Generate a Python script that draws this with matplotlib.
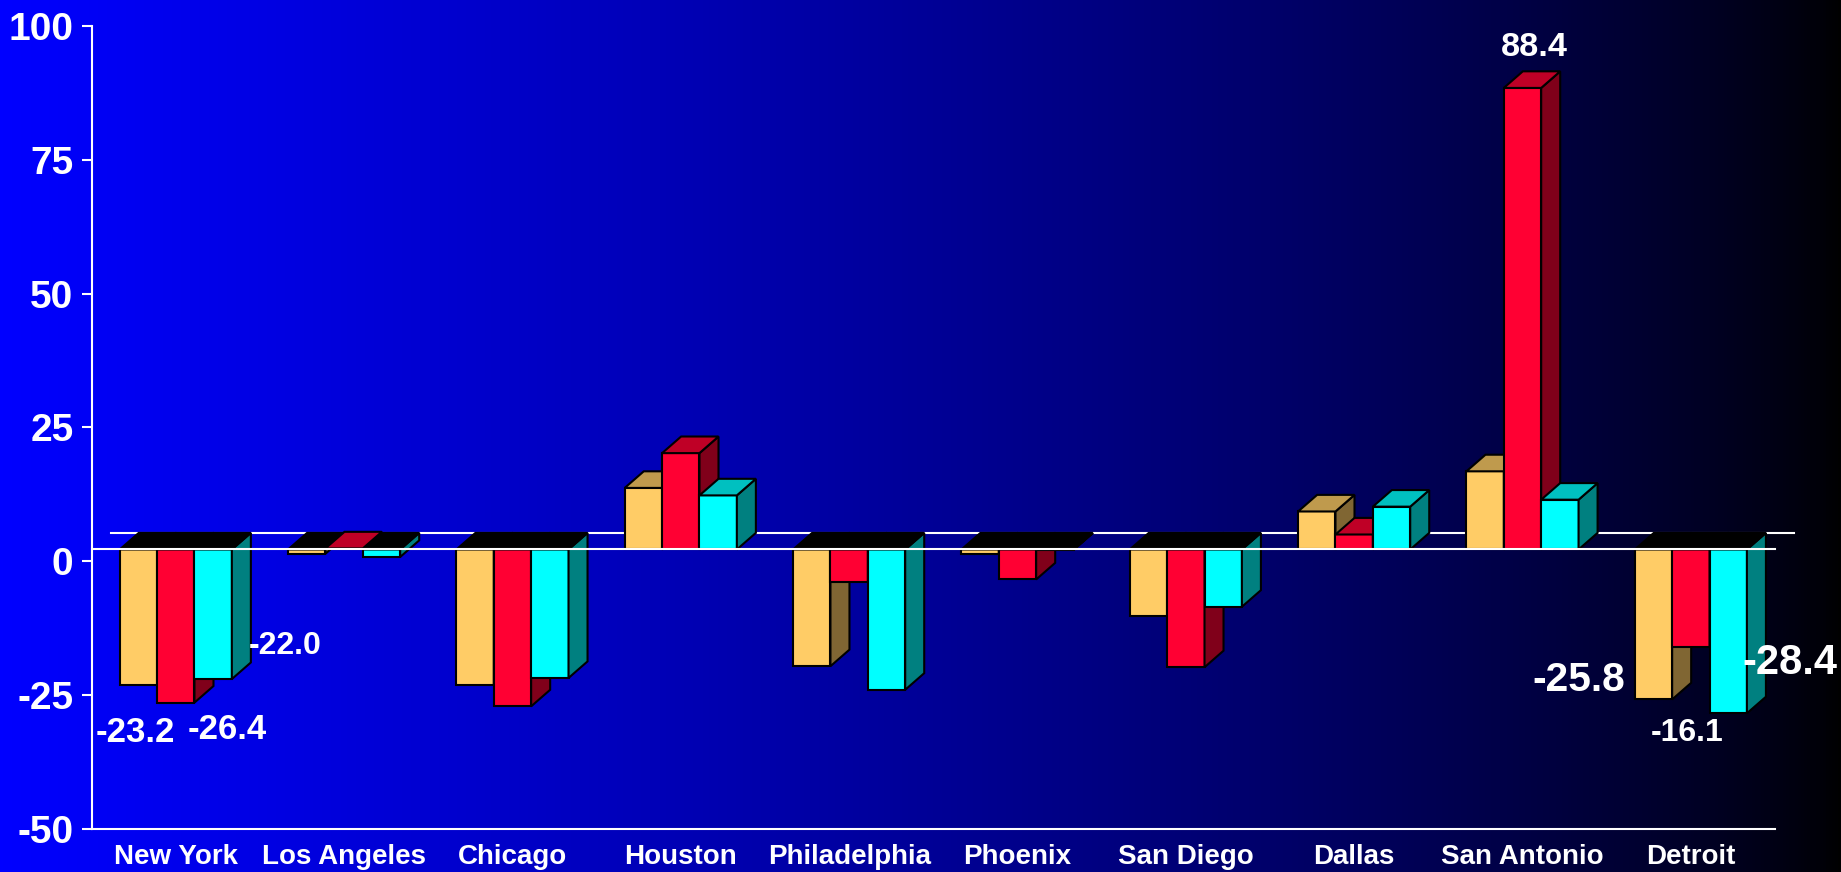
import numpy as np
import matplotlib.pyplot as plt
from matplotlib.patches import Polygon
from matplotlib import font_manager

cities = ["New York", "Los Angeles", "Chicago", "Houston", "Philadelphia",
          "Phoenix", "San Diego", "Dallas", "San Antonio", "Detroit"]
series_a = [-23.2, 1.4, -23.2, 13.7, -19.6, 1.4, -10.2, 9.3, 16.8, -25.8]
series_b = [-26.4, 2.4, -27.1, 20.2, -3.8, -3.4, -19.8, 5.0, 88.4, -16.1]
series_c = [-22.0, 0.8, -21.8, 12.3, -24.0, 2.1, -8.5, 10.2, 11.5, -28.4]
yticks = [-50, -25, 0, 25, 50, 75, 100]

# value labels printed on the chart
label_text = ["-23.2", "-26.4", "-22.0", "88.4", "-25.8", "-16.1", "-28.4"]
label_x = [-0.242, 0.303, 0.652, 8.07, 8.332, 8.979, 9.59]
label_y = [-33.8, -33.2, -17.3, 94.4, -24.2, -33.5, -21.0]
label_size = [25, 25, 23, 24.7, 29.3, 23, 30]

fronts = ["#FFCC66", "#FF0033", "#00FFFF"]
tops = ["#BF9A4D", "#BF0026", "#00C0C0"]
sides = ["#806633", "#80001A", "#008080"]

base = 2.2      # floor of the 3d box sits slightly above zero
w = 0.222       # bar width
ddx, ddy = 0.113, 3.1   # depth offset

avail = {f.name for f in font_manager.fontManager.ttflist}
narrow = "Liberation Sans Narrow" if "Liberation Sans Narrow" in avail else "Liberation Sans"
plt.rcParams["font.family"] = ["Liberation Sans", "DejaVu Sans"]
plt.rcParams["font.weight"] = "bold"
plt.rcParams["axes.unicode_minus"] = False

fig = plt.figure(figsize=(18.41, 8.72), dpi=100)

# background gradient, blue -> black
bg = fig.add_axes([0, 0, 1, 1], zorder=-1)
t = np.linspace(0, 1, 600)
grad = np.zeros((1, t.size, 3))
grad[0, :, 2] = (1 - t) ** 0.75
bg.imshow(grad, aspect="auto", extent=(0, 1, 0, 1))
bg.axis("off")

ax = fig.add_axes([0.04976, 0.04931, 0.9144, 0.9211])
ax.set_facecolor("none")
ax.set_xlim(-0.5, 9.5)
ax.set_ylim(-50, 100)


def draw_bar(x0, v, k):
    lo, hi = min(v, base), max(v, base)
    x1 = x0 + w
    kw = dict(edgecolor="black", linewidth=1.5, joinstyle="miter", zorder=2)
    ax.add_patch(Polygon([(x0, lo), (x1, lo), (x1, hi), (x0, hi)], facecolor=fronts[k], **kw))
    ax.add_patch(Polygon([(x1, lo), (x1 + ddx, lo + ddy), (x1 + ddx, hi + ddy), (x1, hi)],
                         facecolor=sides[k], **kw))
    cap = tops[k] if v > base else "black"
    ax.add_patch(Polygon([(x0, hi), (x1, hi), (x1 + ddx, hi + ddy), (x0 + ddx, hi + ddy)],
                         facecolor=cap, **kw))


x = np.arange(len(cities))
for i in x:
    for k, s in enumerate([series_a, series_b, series_c]):
        draw_bar(i - 1.5 * w + k * w, s[i], k)

# floor lines
ax.plot([-0.5 + ddx, 9.5 + ddx], [base + ddy, base + ddy], color="white", lw=1.5,
        zorder=1, clip_on=False)
ax.plot([-0.5, 9.5], [base, base], color="white", lw=1.5, zorder=3, clip_on=False)

for s, lx, ly, fs in zip(label_text, label_x, label_y, label_size):
    ax.text(lx, ly, s, color="white", fontsize=fs, ha="center", va="baseline",
            family=[narrow, "DejaVu Sans"], fontweight="bold")

ax.set_yticks(yticks)
ax.set_xticks(x)
ax.set_xticklabels(cities)
for side in ["top", "right"]:
    ax.spines[side].set_visible(False)
for side in ["left", "bottom"]:
    ax.spines[side].set_color("white")
    ax.spines[side].set_linewidth(1.5)
ax.tick_params(axis="y", colors="white", length=7, width=1.5, pad=6, labelsize=28)
ax.tick_params(axis="x", colors="white", length=0, pad=11, labelsize=20)

fig.savefig("out.png", dpi=100)
